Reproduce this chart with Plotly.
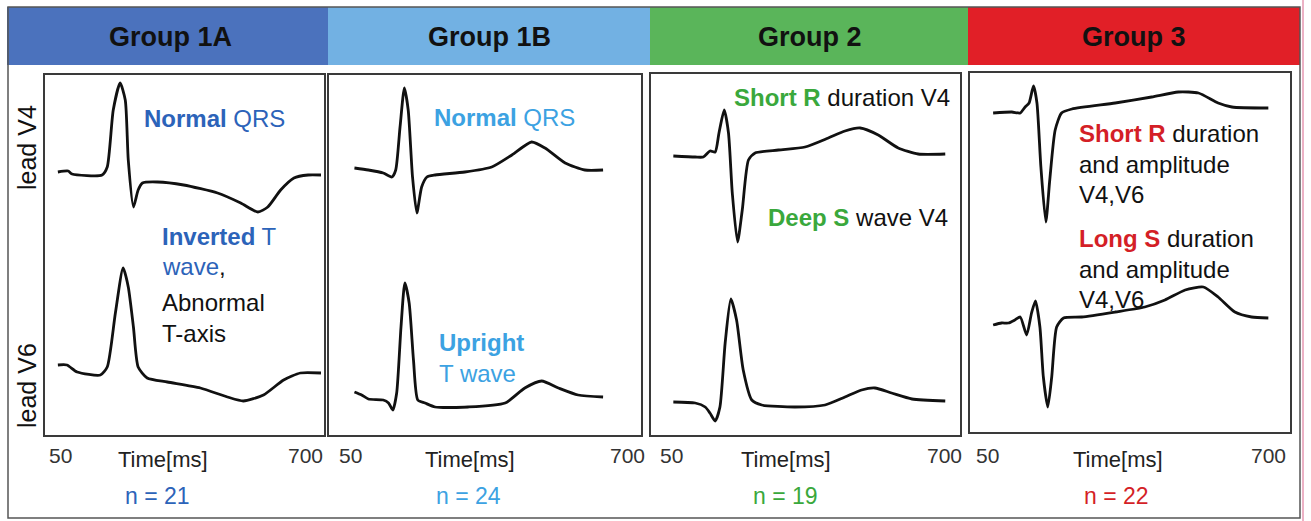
import plotly.graph_objects as go

W, H = 1311, 521

# ---------------- data ----------------
groups = ["Group 1A", "Group 1B", "Group 2", "Group 3"]
n_counts = [21, 24, 19, 22]
tick_labels = ["50", "700"]
x_label = "Time[ms]"
lead_labels = ["lead V4", "lead V6"]

# time (ms) and amplitude (relative to baseline, arbitrary mV units)
g1a_v4_t = [80, 104, 113, 183, 195, 209, 225, 237, 244, 256, 267, 277, 312, 373, 452, 506, 546, 569, 599, 630, 663, 693]
g1a_v4_a = [0, 0.01, -0.02, -0.03, 0.05, 0.62, 0.89, 0.72, 0.12, -0.35, -0.18, -0.11, -0.10, -0.13, -0.21, -0.31, -0.40, -0.35, -0.18, -0.06, -0.03, -0.03]
g1a_v6_t = [80, 101, 125, 179, 195, 214, 232, 244, 256, 267, 288, 335, 412, 475, 512, 559, 606, 645, 693]
g1a_v6_a = [0, 0, -0.07, -0.10, -0.02, 0.52, 0.97, 0.78, 0.38, -0.02, -0.13, -0.17, -0.23, -0.32, -0.36, -0.30, -0.15, -0.08, -0.08]

g1b_v4_t = [103, 132, 163, 181, 189, 198, 207, 215, 224, 233, 243, 254, 271, 333, 389, 431, 472, 500, 542, 583, 621]
g1b_v4_a = [0, -0.02, -0.05, -0.09, -0.02, 0.41, 0.80, 0.58, -0.09, -0.45, -0.19, -0.09, -0.07, -0.04, 0.01, 0.13, 0.26, 0.20, 0.05, -0.02, -0.02]
g1b_v6_t = [103, 118, 132, 163, 174, 183, 191, 200, 208, 217, 226, 235, 250, 271, 340, 417, 458, 493, 528, 569, 621]
g1b_v6_a = [0, -0.03, -0.07, -0.08, -0.11, -0.18, -0.01, 0.65, 1.09, 0.89, 0.32, -0.08, -0.11, -0.15, -0.15, -0.11, 0.04, 0.11, 0.04, -0.03, -0.05]

g2_v4_t = [97, 143, 160, 174, 185, 193, 204, 213, 221, 232, 242, 255, 269, 318, 374, 423, 458, 490, 528, 570, 612, 669]
g2_v4_a = [0, -0.01, -0.01, 0.05, 0.04, 0.23, 0.46, 0.23, -0.37, -0.86, -0.54, -0.04, 0.03, 0.06, 0.09, 0.18, 0.25, 0.28, 0.21, 0.08, 0.02, 0.02]
g2_v6_t = [97, 143, 164, 174, 185, 195, 206, 218, 230, 244, 262, 283, 353, 416, 458, 493, 521, 556, 599, 669]
g2_v6_a = [0, -0.01, -0.05, -0.11, -0.19, -0.05, 0.59, 1.03, 0.82, 0.32, 0.02, -0.03, -0.05, -0.03, 0.05, 0.12, 0.14, 0.09, 0.03, 0.01]

g3_v4_t = [97, 135, 152, 162, 170, 179, 186, 194, 204, 212, 223, 236, 257, 345, 419, 473, 514, 554, 582, 656]
g3_v4_a = [0, 0.01, 0, 0.06, 0.10, 0.27, 0.10, -0.54, -1.09, -0.67, -0.17, 0, 0.04, 0.10, 0.16, 0.21, 0.20, 0.10, 0.06, 0.05]
g3_v6_t = [97, 114, 128, 141, 152, 165, 175, 183, 192, 199, 208, 216, 226, 240, 277, 345, 405, 446, 487, 524, 554, 588, 622, 656]
g3_v6_a = [0, 0.02, 0.02, 0.05, 0.08, -0.10, 0.12, 0.24, -0.02, -0.52, -0.82, -0.52, -0.02, 0.07, 0.08, 0.13, 0.18, 0.25, 0.35, 0.38, 0.28, 0.13, 0.08, 0.07]

traces_by_group = [
    [(g1a_v4_t, g1a_v4_a), (g1a_v6_t, g1a_v6_a)],
    [(g1b_v4_t, g1b_v4_a), (g1b_v6_t, g1b_v6_a)],
    [(g2_v4_t, g2_v4_a), (g2_v6_t, g2_v6_a)],
    [(g3_v4_t, g3_v4_a), (g3_v6_t, g3_v6_a)],
]

# ---------------- layout / style ----------------
header_colors = ["#4b72bd", "#72b1e3", "#5ab55a", "#e11f27"]
accent = ["#2c63b9", "#3ca2e2", "#3aa83c", "#d41f27"]
FONT = "Liberation Sans, Arial, sans-serif"

header_px = [(7, 328), (328, 650), (650, 968), (968, 1300)]
panel_px = [(45, 324, 75, 435), (329, 641, 75, 435), (651, 960, 74, 435), (970, 1290, 73, 432)]
baseline_px = [(172, 365), (168, 392), (156, 402), (113, 325)]
PX_PER_UNIT = 100.0


def px(x):
    return x / W


def py(y):
    return 1 - y / H


fig = go.Figure()

for i, (x0, x1, y0, y1) in enumerate(panel_px):
    k = "" if i == 0 else str(i + 1)
    fig.update_layout(**{
        "xaxis" + k: dict(domain=[px(x0), px(x1)], range=[50, 700], anchor="y" + k,
                          showgrid=False, zeroline=False, showticklabels=False, ticks="",
                          showline=True, mirror=True, linecolor="#3a3a3a", linewidth=1.6,
                          fixedrange=True),
        "yaxis" + k: dict(domain=[py(y1), py(y0)], range=[0, (y1 - y0) / PX_PER_UNIT], anchor="x" + k,
                          showgrid=False, zeroline=False, showticklabels=False, ticks="",
                          showline=True, mirror=True, linecolor="#3a3a3a", linewidth=1.6,
                          fixedrange=True),
    })
    for j, (t, a) in enumerate(traces_by_group[i]):
        off = (y1 - baseline_px[i][j]) / PX_PER_UNIT
        fig.add_trace(go.Scatter(
            x=t, y=[v + off for v in a], mode="lines",
            line=dict(color="#111111", width=2.8, shape="spline", smoothing=0.6),
            xaxis="x" + k, yaxis="y" + k, showlegend=False, hoverinfo="skip"))

shapes = []
for (x0, x1), c in zip(header_px, header_colors):
    shapes.append(dict(type="rect", xref="paper", yref="paper", x0=px(x0), x1=px(x1),
                       y0=py(65), y1=py(7), fillcolor=c, line=dict(width=0), layer="below"))
shapes.append(dict(type="rect", xref="paper", yref="paper", x0=px(8), x1=px(1300),
                   y0=py(518), y1=py(7), line=dict(color="#555555", width=1.5)))
shapes.append(dict(type="line", xref="paper", yref="paper", x0=px(1303), x1=px(1303),
                   y0=0, y1=1, line=dict(color="#d9668c", width=1)))

ann = []


def A(text, x, y, size=24, color="#111111", xanchor="left", yanchor="middle", angle=0):
    ann.append(dict(text=text, x=px(x), y=py(y), xref="paper", yref="paper",
                    xanchor=xanchor, yanchor=yanchor, showarrow=False, textangle=angle,
                    font=dict(family=FONT, size=size, color=color)))


# headers
header_centers = [170, 489, 810, 1134]
for g, cx in zip(groups, header_centers):
    A("<b>%s</b>" % g, cx, 37, size=27, xanchor="center")

# lead labels
A(lead_labels[0], 27, 148, size=25, xanchor="center", angle=-90)
A(lead_labels[1], 27, 386, size=25, xanchor="center", angle=-90)

# axis-ish labels
fifty_x = [47, 337, 658, 974]
seven_x = [325, 647, 964, 1288]
time_x = [163, 470, 786, 1118]
n_x = [157, 468, 785, 1116]
for i in range(4):
    A(tick_labels[0], fifty_x[i], 455, size=21, color="#333333")
    A(tick_labels[1], seven_x[i], 455, size=21, color="#333333", xanchor="right")
    A(x_label, time_x[i], 459, size=22, color="#222222", xanchor="center")
    A("n = %d" % n_counts[i], n_x[i], 496, size=23, color=accent[i], xanchor="center")

K = "<span style='color:#111111'>%s</span>"
# panel 1 texts
c = accent[0]
A("<b>Normal</b> QRS", 142, 118, color=c)
A("<b>Inverted</b> T", 160, 236, color=c)
A("wave" + K % ",", 160, 266, color=c)
A("Abnormal", 160, 302, color="#111111")
A("T-axis", 160, 333, color="#111111")
# panel 2 texts
c = accent[1]
A("<b>Normal</b> QRS", 432, 117, color=c)
A("<b>Upright</b>", 437, 342, color=c)
A("T wave", 437, 373, color=c)
# panel 3 texts
c = accent[2]
A("<b>Short R</b>" + K % " duration V4", 952, 97, color=c, xanchor="right")
A("<b>Deep S</b>" + K % " wave V4", 950, 217, color=c, xanchor="right")
# panel 4 texts
c = accent[3]
A("<b>Short R</b>" + K % " duration", 1077, 133, color=c)
A("and amplitude", 1077, 164)
A("V4,V6", 1077, 195)
A("<b>Long S</b>" + K % " duration", 1077, 238, color=c)
A("and amplitude", 1077, 269)
A("V4,V6", 1077, 299)

fig.update_layout(width=W, height=H, margin=dict(l=0, r=0, t=0, b=0),
                  paper_bgcolor="white", plot_bgcolor="white",
                  shapes=shapes, annotations=ann, showlegend=False,
                  font=dict(family=FONT))

fig.write_html("out.html", config={"displayModeBar": False},
               post_script="document.body.style.margin='0';document.body.style.overflow='hidden';")
